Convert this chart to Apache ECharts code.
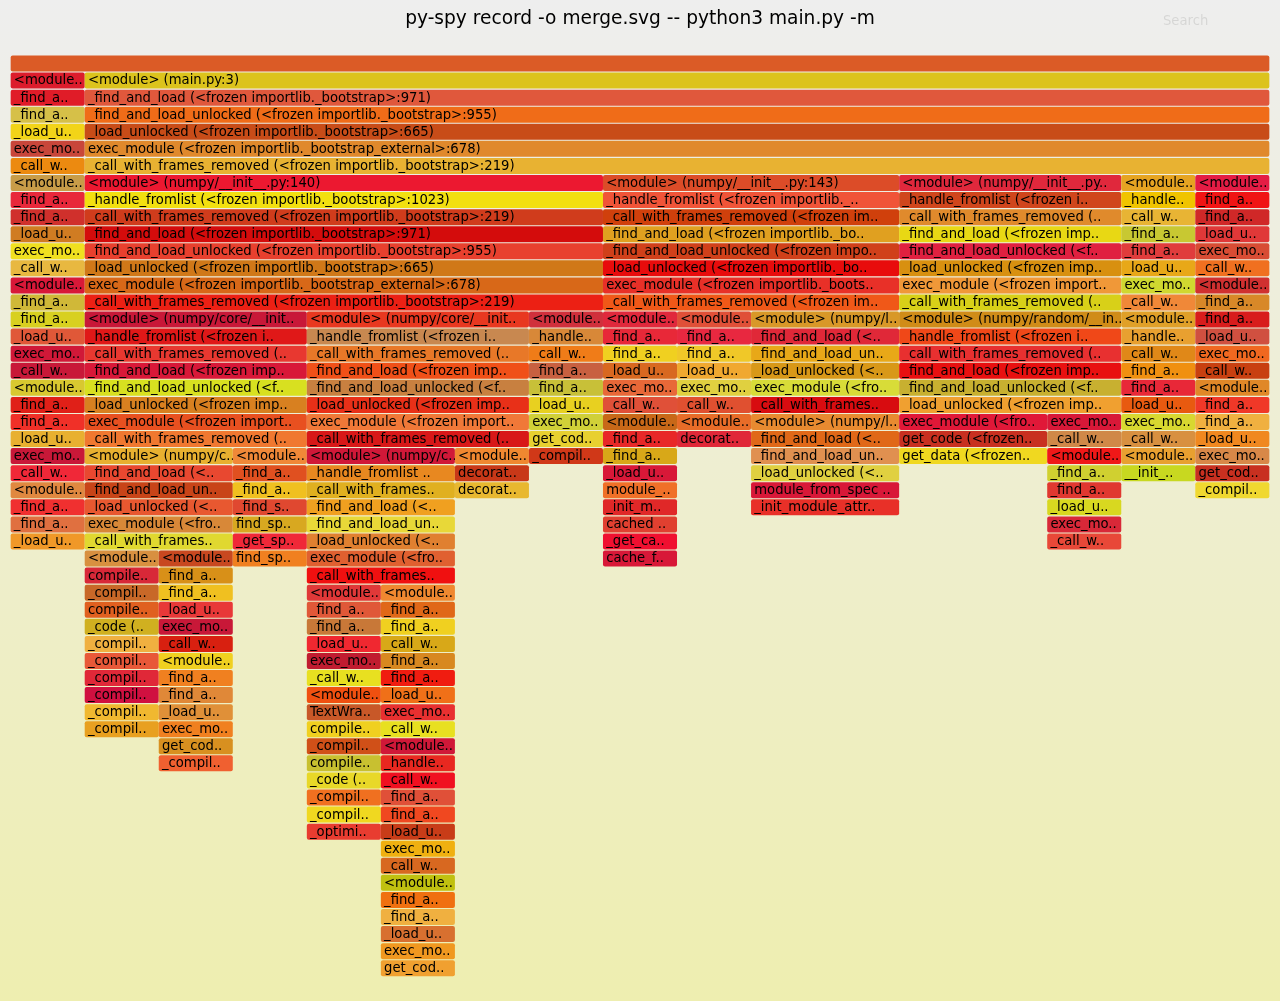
<!DOCTYPE html>
<html><head><meta charset="utf-8">
<script src="https://cdn.jsdelivr.net/npm/echarts@6/dist/echarts.min.js"></script>
<style>html,body{margin:0;padding:0;background:#eeeeee;}#chart{width:1280px;height:1001px;}</style>
</head><body><div id="chart"></div>
<script>
const titleText = 'py-spy record -o merge.svg -- python3 main.py -m';
const searchText = 'Search';
const totalSamples = 17;

// Each level (stack depth) lists frames left to right as [label, sample count]; null = no frame.
const levels = [
  [["", 17]],
  [["<module..",1],["<module> (main.py:3)",16]],
  [["_find_a..",1],["_find_and_load (<frozen importlib._bootstrap>:971)",16]],
  [["_find_a..",1],["_find_and_load_unlocked (<frozen importlib._bootstrap>:955)",16]],
  [["_load_u..",1],["_load_unlocked (<frozen importlib._bootstrap>:665)",16]],
  [["exec_mo..",1],["exec_module (<frozen importlib._bootstrap_external>:678)",16]],
  [["_call_w..",1],["_call_with_frames_removed (<frozen importlib._bootstrap>:219)",16]],
  [["<module..",1],["<module> (numpy/__init__.py:140)",7],["<module> (numpy/__init__.py:143)",4],["<module> (numpy/__init__.py..",3],["<module..",1],["<module..",1]],
  [["_find_a..",1],["_handle_fromlist (<frozen importlib._bootstrap>:1023)",7],["_handle_fromlist (<frozen importlib._..",4],["_handle_fromlist (<frozen i..",3],["_handle..",1],["_find_a..",1]],
  [["_find_a..",1],["_call_with_frames_removed (<frozen importlib._bootstrap>:219)",7],["_call_with_frames_removed (<frozen im..",4],["_call_with_frames_removed (..",3],["_call_w..",1],["_find_a..",1]],
  [["_load_u..",1],["_find_and_load (<frozen importlib._bootstrap>:971)",7],["_find_and_load (<frozen importlib._bo..",4],["_find_and_load (<frozen imp..",3],["_find_a..",1],["_load_u..",1]],
  [["exec_mo..",1],["_find_and_load_unlocked (<frozen importlib._bootstrap>:955)",7],["_find_and_load_unlocked (<frozen impo..",4],["_find_and_load_unlocked (<f..",3],["_find_a..",1],["exec_mo..",1]],
  [["_call_w..",1],["_load_unlocked (<frozen importlib._bootstrap>:665)",7],["_load_unlocked (<frozen importlib._bo..",4],["_load_unlocked (<frozen imp..",3],["_load_u..",1],["_call_w..",1]],
  [["<module..",1],["exec_module (<frozen importlib._bootstrap_external>:678)",7],["exec_module (<frozen importlib._boots..",4],["exec_module (<frozen import..",3],["exec_mo..",1],["<module..",1]],
  [["_find_a..",1],["_call_with_frames_removed (<frozen importlib._bootstrap>:219)",7],["_call_with_frames_removed (<frozen im..",4],["_call_with_frames_removed (..",3],["_call_w..",1],["_find_a..",1]],
  [["_find_a..",1],["<module> (numpy/core/__init..",3],["<module> (numpy/core/__init..",3],["<module..",1],["<module..",1],["<module..",1],["<module> (numpy/l..",2],["<module> (numpy/random/__in..",3],["<module..",1],["_find_a..",1]],
  [["_load_u..",1],["_handle_fromlist (<frozen i..",3],["_handle_fromlist (<frozen i..",3],["_handle..",1],["_find_a..",1],["_find_a..",1],["_find_and_load (<..",2],["_handle_fromlist (<frozen i..",3],["_handle..",1],["_load_u..",1]],
  [["exec_mo..",1],["_call_with_frames_removed (..",3],["_call_with_frames_removed (..",3],["_call_w..",1],["_find_a..",1],["_find_a..",1],["_find_and_load_un..",2],["_call_with_frames_removed (..",3],["_call_w..",1],["exec_mo..",1]],
  [["_call_w..",1],["_find_and_load (<frozen imp..",3],["_find_and_load (<frozen imp..",3],["_find_a..",1],["_load_u..",1],["_load_u..",1],["_load_unlocked (<..",2],["_find_and_load (<frozen imp..",3],["_find_a..",1],["_call_w..",1]],
  [["<module..",1],["_find_and_load_unlocked (<f..",3],["_find_and_load_unlocked (<f..",3],["_find_a..",1],["exec_mo..",1],["exec_mo..",1],["exec_module (<fro..",2],["_find_and_load_unlocked (<f..",3],["_find_a..",1],["<module..",1]],
  [["_find_a..",1],["_load_unlocked (<frozen imp..",3],["_load_unlocked (<frozen imp..",3],["_load_u..",1],["_call_w..",1],["_call_w..",1],["_call_with_frames..",2],["_load_unlocked (<frozen imp..",3],["_load_u..",1],["_find_a..",1]],
  [["_find_a..",1],["exec_module (<frozen import..",3],["exec_module (<frozen import..",3],["exec_mo..",1],["<module..",1],["<module..",1],["<module> (numpy/l..",2],["exec_module (<fro..",2],["exec_mo..",1],["exec_mo..",1],["_find_a..",1]],
  [["_load_u..",1],["_call_with_frames_removed (..",3],["_call_with_frames_removed (..",3],["get_cod..",1],["_find_a..",1],["decorat..",1],["_find_and_load (<..",2],["get_code (<frozen..",2],["_call_w..",1],["_call_w..",1],["_load_u..",1]],
  [["exec_mo..",1],["<module> (numpy/c..",2],["<module..",1],["<module> (numpy/c..",2],["<module..",1],["_compil..",1],["_find_a..",1],[null,1],["_find_and_load_un..",2],["get_data (<frozen..",2],["<module..",1],["<module..",1],["exec_mo..",1]],
  [["_call_w..",1],["_find_and_load (<..",2],["_find_a..",1],["_handle_fromlist ..",2],["decorat..",1],[null,1],["_load_u..",1],[null,1],["_load_unlocked (<..",2],[null,2],["_find_a..",1],["__init_..",1],["get_cod..",1]],
  [["<module..",1],["_find_and_load_un..",2],["_find_a..",1],["_call_with_frames..",2],["decorat..",1],[null,1],["module_..",1],[null,1],["module_from_spec ..",2],[null,2],["_find_a..",1],[null,1],["_compil..",1]],
  [["_find_a..",1],["_load_unlocked (<..",2],["_find_s..",1],["_find_and_load (<..",2],[null,2],["_init_m..",1],[null,1],["_init_module_attr..",2],[null,2],["_load_u..",1]],
  [["_find_a..",1],["exec_module (<fro..",2],["find_sp..",1],["_find_and_load_un..",2],[null,2],["cached ..",1],[null,5],["exec_mo..",1]],
  [["_load_u..",1],["_call_with_frames..",2],["_get_sp..",1],["_load_unlocked (<..",2],[null,2],["_get_ca..",1],[null,5],["_call_w..",1]],
  [[null,1],["<module..",1],["<module..",1],["find_sp..",1],["exec_module (<fro..",2],[null,2],["cache_f..",1]],
  [[null,1],["compile..",1],["_find_a..",1],[null,1],["_call_with_frames..",2]],
  [[null,1],["_compil..",1],["_find_a..",1],[null,1],["<module..",1],["<module..",1]],
  [[null,1],["compile..",1],["_load_u..",1],[null,1],["_find_a..",1],["_find_a..",1]],
  [[null,1],["_code (..",1],["exec_mo..",1],[null,1],["_find_a..",1],["_find_a..",1]],
  [[null,1],["_compil..",1],["_call_w..",1],[null,1],["_load_u..",1],["_call_w..",1]],
  [[null,1],["_compil..",1],["<module..",1],[null,1],["exec_mo..",1],["_find_a..",1]],
  [[null,1],["_compil..",1],["_find_a..",1],[null,1],["_call_w..",1],["_find_a..",1]],
  [[null,1],["_compil..",1],["_find_a..",1],[null,1],["<module..",1],["_load_u..",1]],
  [[null,1],["_compil..",1],["_load_u..",1],[null,1],["TextWra..",1],["exec_mo..",1]],
  [[null,1],["_compil..",1],["exec_mo..",1],[null,1],["compile..",1],["_call_w..",1]],
  [[null,2],["get_cod..",1],[null,1],["_compil..",1],["<module..",1]],
  [[null,2],["_compil..",1],[null,1],["compile..",1],["_handle..",1]],
  [[null,4],["_code (..",1],["_call_w..",1]],
  [[null,4],["_compil..",1],["_find_a..",1]],
  [[null,4],["_compil..",1],["_find_a..",1]],
  [[null,4],["_optimi..",1],["_load_u..",1]],
  [[null,5],["exec_mo..",1]],
  [[null,5],["_call_w..",1]],
  [[null,5],["<module..",1]],
  [[null,5],["_find_a..",1]],
  [[null,5],["_find_a..",1]],
  [[null,5],["_load_u..",1]],
  [[null,5],["exec_mo..",1]],
  [[null,5],["get_cod..",1]]
];

// Fill colour of each frame, per level, left to right (styles only).
const levelColors = [
  ["#db5b26"],
  ["#dc1c2c","#dcc31c"],
  ["#e01c28","#e0583c"],
  ["#d6c048","#f06c18"],
  ["#f2d418","#c84c18"],
  ["#c8463a","#e0892c"],
  ["#ec8a10","#e8b232"],
  ["#c89c48","#ec1830","#dc4c28","#e0283c","#e6a422","#e41c44"],
  ["#e8283a","#f2e010","#f05438","#d0461c","#f0c400","#f01414"],
  ["#d0302c","#d03c1c","#d0400c","#e08a2c","#e8b434","#d02828"],
  ["#d07c22","#d40c0c","#e0a020","#e8d814","#c8c832","#e03838"],
  ["#f0e020","#e8402e","#d0401a","#e02040","#e03c3c","#d84c34"],
  ["#e8b840","#d07818","#e80c0c","#d89010","#e8a818","#f07020"],
  ["#d81838","#d86818","#e83028","#f09838","#d0d830","#d03030"],
  ["#d0b838","#ec2014","#f05818","#d8d018","#f08838","#d88828"],
  ["#d8d020","#c81838","#e83820","#d0303c","#e0283c","#e05038","#d89828","#d08c18","#e0a028","#d81c1c"],
  ["#e05838","#e01818","#c88850","#d88838","#e82838","#e82840","#e02838","#f04818","#e8a030","#d05040"],
  ["#d01838","#e83830","#e87828","#f07c18","#f0d020","#f0c828","#e8a818","#e83030","#e08818","#f06820"],
  ["#c81838","#d81838","#f05018","#c86040","#d86820","#f0a830","#d89818","#e81010","#f09010","#c84010"],
  ["#d8c830","#d8e020","#c88040","#c8c038","#e86838","#e0d040","#d8dc38","#c8b030","#e82838","#e08828"],
  ["#e02018","#d88020","#e83018","#e8d020","#e05038","#e05030","#d80c10","#f0a030","#e85a10","#f03828"],
  ["#f03028","#e85020","#f07838","#d0d038","#c86818","#e86c28","#e88a30","#e01838","#d81838","#d8d830","#f0b040"],
  ["#e8b030","#f07830","#d81818","#e8d030","#e82828","#e02838","#e06818","#c83020","#d08848","#d89040","#f08820"],
  ["#c81838","#e8b030","#f08838","#d01838","#f08830","#d03818","#d8a818","#e09050","#f0d820","#f01818","#e8a030","#d88848"],
  ["#f02838","#e84830","#e05020","#e88820","#c83818","#d81838","#e0d040","#d0d030","#c8d820","#c83020"],
  ["#e08840","#c84418","#f0c020","#e0b020","#e8b830","#f07028","#d81838","#e03830","#f0d830"],
  ["#f03030","#e85830","#e04830","#f0a020","#e02828","#e83028","#d8d820"],
  ["#e07040","#d88838","#d8a820","#e8d838","#e04030","#d82838"],
  ["#f09828","#e0d830","#f02838","#e08030","#f01030","#e84838"],
  ["#d89040","#c84820","#f08020","#e06030","#d81838"],
  ["#d82838","#d89018","#f01010"],
  ["#c86828","#f0c020","#e03838","#f08830"],
  ["#e06020","#e83838","#e05838","#e06818"],
  ["#d0b020","#c81838","#c87838","#f0d020"],
  ["#f0b040","#d82010","#f02830","#d8a818"],
  ["#e85838","#f0d020","#c01c30","#d88820"],
  ["#e02838","#f08020","#e8e020","#f01c10"],
  ["#d01040","#e08838","#f05010","#f07018"],
  ["#f0b830","#e09038","#c85828","#e83030"],
  ["#e8a020","#f08020","#f0d020","#e8e020"],
  ["#d89020","#d05018","#d01838"],
  ["#f06030","#c8c030","#e82820"],
  ["#e8d828","#f01020"],
  ["#f07020","#e05038"],
  ["#f0d820","#f04820"],
  ["#e83c30","#c83c18"],
  ["#f0b010"],
  ["#d86820"],
  ["#c0c010"],
  ["#f07010"],
  ["#f0b040"],
  ["#d87030"],
  ["#f09820"],
  ["#f0a030"]
];

const frames = [];
levels.forEach((row, depth) => {
  let pos = 0, k = 0;
  row.forEach(([name, n]) => {
    if (name !== null) {
      frames.push({
        name: name,
        value: [pos, pos + n, depth],
        itemStyle: { color: levelColors[depth][k++] }
      });
    }
    pos += n;
  });
});

const FONT = 'DejaVu Sans, Verdana, sans-serif';

function renderItem(params, api) {
  const d = api.value(2);
  const a = api.coord([api.value(0), d]);
  const b = api.coord([api.value(1), d + 1]);
  const x = a[0], y = a[1];
  const w = b[0] - a[0];
  const h = (b[1] - a[1]) - 1.07;
  const label = frames[params.dataIndex].name;
  return {
    type: 'group',
    children: [
      { type: 'rect', shape: { x: x, y: y, width: w, height: h, r: 2 },
        style: { fill: api.visual('color') } },
      { type: 'text',
        style: { x: x + 3.2, y: y + h / 2 + 0.5, text: label, fill: '#000',
          fontSize: 13.2, fontFamily: FONT, align: 'left', verticalAlign: 'middle',
          width: w + 4, overflow: 'truncate', ellipsis: '..' } }
    ]
  };
}

const chart = echarts.init(document.getElementById('chart'), null, { renderer: 'canvas' });
chart.setOption({
  animation: false,
  backgroundColor: {
    type: 'linear', x: 0, y: 0, x2: 0, y2: 1,
    colorStops: [{ offset: 0, color: '#eeeeee' }, { offset: 1, color: '#eeeeb0' }]
  },
  title: {
    text: titleText, left: 'center', top: 10, padding: 0,
    textStyle: { fontSize: 18.6, fontWeight: 'normal', color: '#000', fontFamily: FONT }
  },
  graphic: [{
    type: 'text', left: 1163, top: 15, silent: true,
    style: { text: searchText, fill: 'rgba(0,0,0,0.1)', fontSize: 13.2, fontFamily: FONT }
  }],
  grid: { left: 10.67, right: 10.67, top: 55.5, bottom: 1001 - 55.5 - levels.length * 17.07 },
  xAxis: { type: 'value', min: 0, max: totalSamples, show: false },
  yAxis: { type: 'value', min: 0, max: levels.length, inverse: true, show: false },
  series: [{
    type: 'custom',
    renderItem: renderItem,
    encode: { x: [0, 1], y: 2 },
    data: frames,
    clip: false
  }]
});
</script>
</body></html>
